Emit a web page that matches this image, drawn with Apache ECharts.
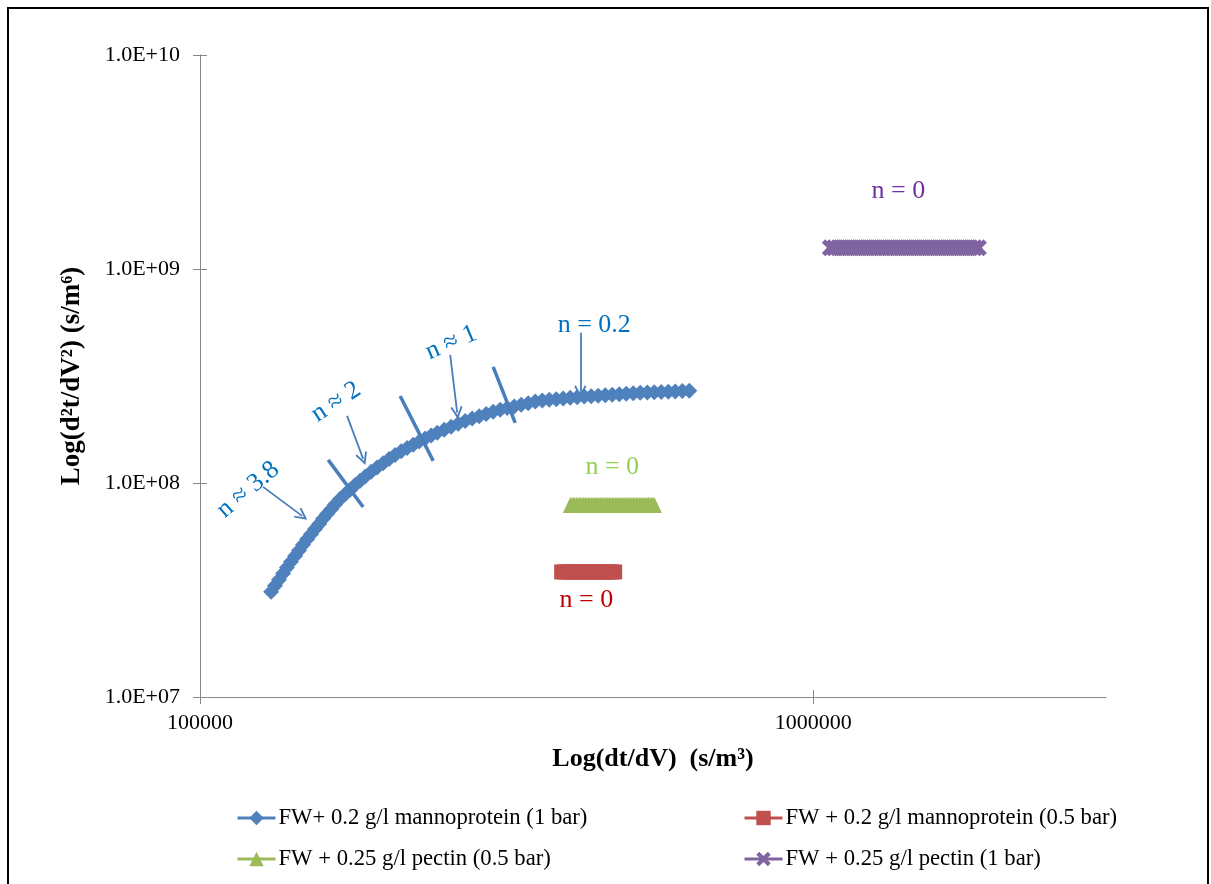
<!DOCTYPE html>
<html><head><meta charset="utf-8">
<script src="https://cdn.jsdelivr.net/npm/echarts@6/dist/echarts.min.js"></script>
<style>html,body{margin:0;padding:0;background:#fff}#c{width:1211px;height:884px}</style>
</head><body><div id="c"></div>
<script>
// ---------- data ----------
const seriesNames = [
  'FW+ 0.2 g/l mannoprotein (1 bar)',
  'FW + 0.2 g/l mannoprotein (0.5 bar)',
  'FW + 0.25 g/l pectin (0.5 bar)',
  'FW + 0.25 g/l pectin (1 bar)'
];
const xTickValues = [100000, 1000000];
const yTickValues = [1e7, 1e8, 1e9, 1e10];

const blueX = [130600,132500,134500,136600,138600,140700,142900,145000,147200,149500,
  151700,154000,156400,158700,161100,163600,166000,169200,172400,175700,
  179000,182400,185800,190100,194400,198900,203400,208000,212800,217600,
  222600,227700,232900,238200,243600,250100,256700,263600,270600,277800,
  285200,292800,300600,308600,316800,325300,333900,342800,352000,361400,
  371000,380900,391000,401400,412100,423100,434300,445900,457800,470000,
  482600,495400,508600,522100,536100,550300,565000,580100,595500,611400,627700];
const blueY = [3.10e7,3.31e7,3.53e7,3.78e7,4.03e7,4.29e7,4.56e7,4.84e7,5.15e7,5.46e7,
  5.76e7,6.09e7,6.44e7,6.81e7,7.16e7,7.54e7,7.93e7,8.42e7,8.86e7,9.31e7,
  9.80e7,1.024e8,1.070e8,1.129e8,1.183e8,1.238e8,1.295e8,1.353e8,1.407e8,1.459e8,
  1.510e8,1.562e8,1.614e8,1.666e8,1.715e8,1.773e8,1.833e8,1.893e8,1.951e8,2.000e8,
  2.050e8,2.102e8,2.154e8,2.201e8,2.240e8,2.278e8,2.321e8,2.361e8,2.402e8,2.430e8,
  2.447e8,2.465e8,2.483e8,2.500e8,2.518e8,2.535e8,2.546e8,2.559e8,2.573e8,2.584e8,
  2.598e8,2.612e8,2.624e8,2.638e8,2.646e8,2.655e8,2.663e8,2.672e8,2.680e8,2.689e8,2.695e8];

const redX = [388000,392400,396800,401300,405900,410500,415100,419800,424600,429400,
  434300,439200,444200,449200,454300,459500,464700,469900,475200];
const redLevel = 3.84e7;

const greenX = [401600,404000,406200,408500,410800,413100,415400,417700,420100,422500,
  424900,427300,429700,432100,434500,437000,439500,442000,444500,447000,
  449500,452000,454600,457100,459700,462300,464900,467500,470200,472800,
  475500,478200,480900,483600,486400,489100,491900,494700,497500,500300,
  503100,506000,508800,511700,514600,517500,520400,523300,526300,529300,
  532300,535300,538300,541300,544400,547500,550600];
const greenLevel = 7.90e7;

const purpleX = [1066000,1082100,1098500,1115100,1132000,1149100,1166500,1184200,1202100,1220300,
  1238800,1257500,1276500,1295800,1315400,1335300,1355500,1376000,1396900,1418000,
  1439500,1461300,1483400,1505800,1528600,1551700,1575200,1599000,1623200,1647800,
  1672700,1698000,1723700,1749800,1776300,1803200,1830500,1858200];
const purpleLevel = 1.256e9;

// annotations (data coordinates)
const slashLines = [
  [[161800, 1.282e8], [184500, 7.73e7]],
  [[212000, 2.55e8], [240000, 1.269e8]],
  [[300600, 3.49e8], [326500, 1.91e8]]
];
const arrowLines = [
  [[126700, 9.59e7], [146700, 7.02e7]],
  [[173700, 2.06e8], [184500, 1.297e8]],
  [[255800, 3.97e8], [262600, 2.13e8]],
  [[416900, 5.03e8], [416900, 2.67e8]]
];
const noteTexts = ['n ≈ 3.8', 'n ≈ 2', 'n ≈ 1', 'n = 0.2', 'n = 0', 'n = 0', 'n = 0'];
const notePos = [[119800, 9.29e7], [166700, 2.39e8], [256800, 4.52e8], [439300, 5.48e8],
  [470000, 1.19e8], [426400, 2.84e7], [1376000, 2.30e9]];
const noteRot = [40, 33, 23, 0, 0, 0, 0];
const noteColor = ['#0070C0', '#0070C0', '#0070C0', '#0070C0', '#92D050', '#C00000', '#7030A0'];

// ---------- chart ----------
const FONT = 'Liberation Serif, Times New Roman, serif';
const colors = ['#4F81BD', '#C0504D', '#9BBB59', '#8064A2'];
const xSymbol = 'path://M0,2 L2,0 L5,3 L8,0 L10,2 L7,5 L10,8 L8,10 L5,7 L2,10 L0,8 L3,5 Z';
const openArrow = 'path://M5,0 L10,9 L8.8,10 L5,3.3 L1.2,10 L0,9 Z';
const annColor = '#4A7EBB';

const pairs = (xs, ys) => xs.map((x, i) => [x, Array.isArray(ys) ? ys[i] : ys]);

const markLineData = [];
slashLines.forEach(s => markLineData.push([
  {coord: s[0], symbol: 'none', lineStyle: {width: 3.5, color: annColor, type: 'solid'}},
  {coord: s[1], symbol: 'none'}
]));
arrowLines.forEach(a => markLineData.push([
  {coord: a[0], symbol: 'none', lineStyle: {width: 1.8, color: annColor, type: 'solid'}},
  {coord: a[1], symbol: openArrow, symbolSize: [12, 13]}
]));

const axisLineStyle = {color: '#868686', width: 1};
const chart = echarts.init(document.getElementById('c'), null, {renderer: 'canvas'});
const yFmt = v => {
  const e = Math.round(Math.log10(v));
  return '1.0E+' + (e < 10 ? '0' : '') + e;
};

chart.setOption({
  animation: false,
  backgroundColor: '#fff',
  grid: {left: 200, top: 55, right: 105, bottom: 187, containLabel: false},
  xAxis: [{
    type: 'log', logBase: 10, min: 100000, max: 3000000,
    position: 'bottom',
    name: 'Log(dt/dV)  (s/m³)', nameLocation: 'middle', nameGap: 49,
    nameTextStyle: {fontFamily: FONT, fontSize: 26, fontWeight: 'bold', color: '#000'},
    axisLine: {show: true, lineStyle: axisLineStyle},
    axisTick: {show: true, inside: false, length: 7, lineStyle: axisLineStyle, customValues: xTickValues},
    axisLabel: {show: true, margin: 15, fontFamily: FONT, fontSize: 22, color: '#000',
      customValues: xTickValues, formatter: v => String(Math.round(v))},
    splitLine: {show: false}, minorTick: {show: false}
  }, {
    type: 'log', logBase: 10, min: 100000, max: 3000000,
    position: 'bottom',
    axisLine: {show: false},
    axisTick: {show: true, inside: true, length: 7, lineStyle: axisLineStyle, customValues: xTickValues},
    axisLabel: {show: false}, splitLine: {show: false}
  }],
  yAxis: [{
    type: 'log', logBase: 10, min: 1e7, max: 1e10,
    position: 'left',
    name: 'Log(d²t/dV²) (s/m⁶)', nameLocation: 'middle', nameGap: 114,
    nameTextStyle: {fontFamily: FONT, fontSize: 27, fontWeight: 'bold', color: '#000'},
    axisLine: {show: true, lineStyle: axisLineStyle},
    axisTick: {show: true, inside: false, length: 7, lineStyle: axisLineStyle, customValues: yTickValues},
    axisLabel: {show: true, margin: 20, fontFamily: FONT, fontSize: 22, color: '#000',
      customValues: yTickValues, formatter: yFmt},
    splitLine: {show: false}, minorTick: {show: false}
  }, {
    type: 'log', logBase: 10, min: 1e7, max: 1e10,
    position: 'left',
    axisLine: {show: false},
    axisTick: {show: true, inside: true, length: 7, lineStyle: axisLineStyle, customValues: yTickValues},
    axisLabel: {show: false}, splitLine: {show: false}
  }],
  legend: [
    {data: [seriesNames[0]], left: 236, top: 805},
    {data: [seriesNames[2]], left: 236, top: 846},
    {data: [seriesNames[1]], left: 743, top: 805},
    {data: [seriesNames[3]], left: 743, top: 846}
  ].map(l => Object.assign(l, {
    orient: 'horizontal', itemWidth: 38, itemHeight: 18, itemGap: 4, padding: 0,
    lineStyle: {width: 3},
    textStyle: {fontFamily: FONT, fontSize: 22.7, color: '#000', lineHeight: 26, padding: [0, 0, 0, -2]},
    selectedMode: false
  })),
  series: [{
    name: seriesNames[0], type: 'line', data: pairs(blueX, blueY),
    symbol: 'diamond', symbolSize: [16, 16], showSymbol: true,
    itemStyle: {color: colors[0]}, lineStyle: {color: colors[0], width: 3},
    z: 3,
    markLine: {silent: true, symbol: ['none', 'none'], label: {show: false},
      emphasis: {disabled: true}, data: markLineData, z: 5}
  }, {
    name: seriesNames[1], type: 'line', data: pairs(redX, redX.map(() => redLevel)),
    symbol: 'rect', symbolSize: [14, 15],
    itemStyle: {color: colors[1]}, lineStyle: {color: colors[1], width: 3}
  }, {
    name: seriesNames[2], type: 'line', data: pairs(greenX, greenX.map(() => greenLevel)),
    symbol: 'triangle', symbolSize: [15, 16],
    itemStyle: {color: colors[2]}, lineStyle: {color: colors[2], width: 3}
  }, {
    name: seriesNames[3], type: 'line', data: pairs(purpleX, purpleX.map(() => purpleLevel)),
    symbol: xSymbol, symbolSize: [17, 17],
    itemStyle: {color: colors[3]}, lineStyle: {color: colors[3], width: 3}
  }]
});

// annotation texts placed through the chart's own axes
const texts = noteTexts.map((t, i) => {
  const p = chart.convertToPixel({xAxisIndex: 0, yAxisIndex: 0}, notePos[i]);
  return {
    type: 'text', x: p[0], y: p[1], rotation: noteRot[i] * Math.PI / 180,
    style: {text: t, fill: noteColor[i], font: '26px ' + FONT, align: 'center', verticalAlign: 'middle'},
    z: 10
  };
});
chart.setOption({
  graphic: [{
    type: 'rect', shape: {x: 8, y: 8, width: 1200, height: 900},
    style: {fill: 'none', stroke: '#000', lineWidth: 2}, z: -1, silent: true
  }].concat(texts)
});
</script></body></html>
